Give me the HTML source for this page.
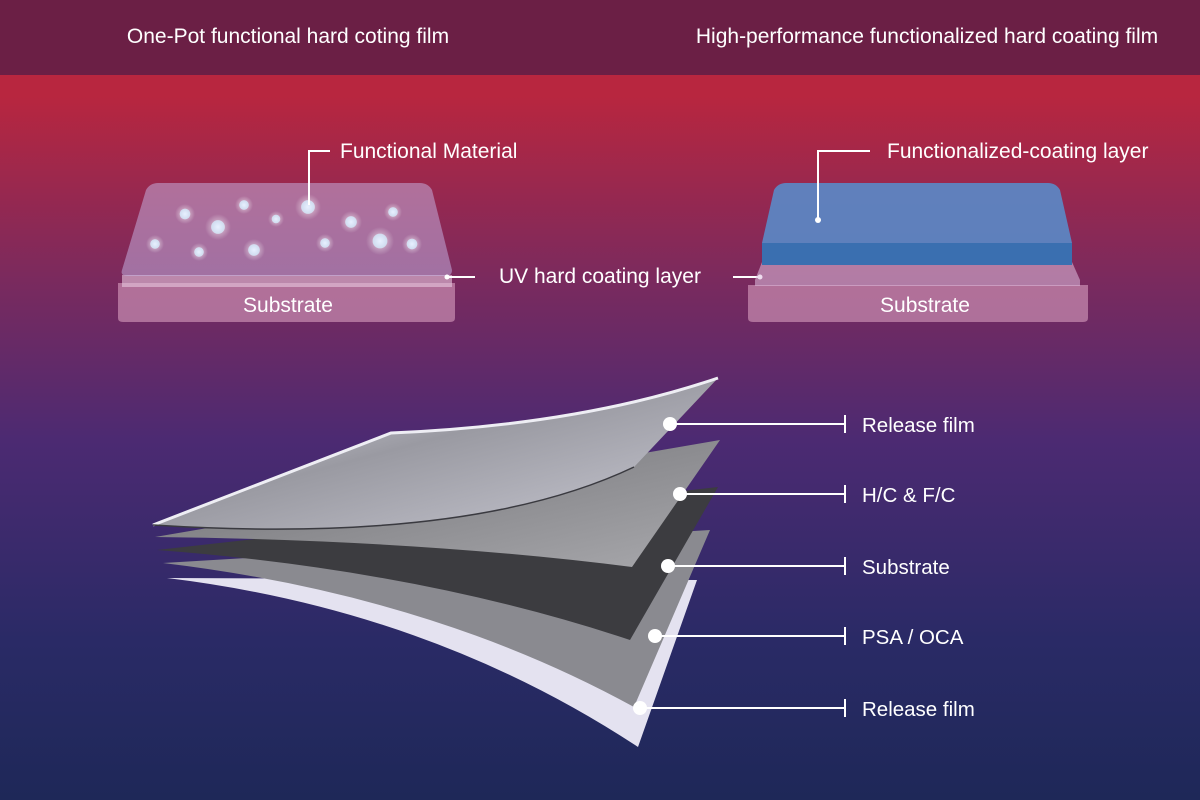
<!DOCTYPE html>
<html><head><meta charset="utf-8"><style>
html,body{margin:0;padding:0;width:1200px;height:800px;overflow:hidden}
svg text{font-family:"Liberation Sans",sans-serif;fill:#fff}
</style></head><body>
<svg width="1200" height="800" viewBox="0 0 1200 800" xmlns="http://www.w3.org/2000/svg">
<defs>
<linearGradient id="bg" x1="0" y1="0" x2="0" y2="1">
<stop offset="0" stop-color="#b8263f"/>
<stop offset="0.12" stop-color="#b8263f"/>
<stop offset="0.35" stop-color="#7a2a5e"/>
<stop offset="0.55" stop-color="#4c2a72"/>
<stop offset="0.8" stop-color="#2a2a66"/>
<stop offset="1" stop-color="#1e2858"/>
</linearGradient>
<radialGradient id="dot"><stop offset="0" stop-color="#e8f0ff"/><stop offset="0.5" stop-color="#d0dcf0"/><stop offset="0.55" stop-color="#ffffff" stop-opacity="0.3"/><stop offset="1" stop-color="#ffffff" stop-opacity="0"/></radialGradient>
<linearGradient id="l1" x1="0" y1="0" x2="1" y2="1"><stop offset="0" stop-color="#e0e0ea"/><stop offset="0.45" stop-color="#9a9aa2"/><stop offset="1" stop-color="#c8c8d2"/></linearGradient>
<linearGradient id="l2" x1="0" y1="0" x2="1" y2="1"><stop offset="0" stop-color="#6e6e72"/><stop offset="1" stop-color="#a8a8ac"/></linearGradient>
</defs>
<rect width="1200" height="800" fill="url(#bg)"/>
<rect width="1200" height="75" fill="#6b1f45"/>
<text x="288" y="43" font-size="21" text-anchor="middle">One-Pot functional hard coting film</text>
<text x="927" y="43" font-size="21" text-anchor="middle">High-performance functionalized hard coating film</text>

<!-- left plate -->
<path d="M118,283 H455 V318 Q455,322 450,322 H123 Q118,322 118,318 Z" fill="#d9a0c0" fill-opacity="0.6"/>
<path d="M122,275 H452 V287 H122 Z" fill="#e8c8e0" fill-opacity="0.6"/>
<path d="M158,183 H420 Q428,183 432,190 L452,270 Q452,276 446,276 H128 Q120,276 122,270 L146,190 Q150,183 158,183 Z" fill="#c8b8e8" fill-opacity="0.5"/>
<g fill="url(#dot)">
<circle cx="155" cy="244" r="9"/><circle cx="185" cy="214" r="10"/><circle cx="199" cy="252" r="9"/><circle cx="218" cy="227" r="13"/>
<circle cx="244" cy="205" r="9"/><circle cx="254" cy="250" r="11"/><circle cx="276" cy="219" r="8"/><circle cx="308" cy="207" r="13"/>
<circle cx="325" cy="243" r="9"/><circle cx="351" cy="222" r="11"/><circle cx="380" cy="241" r="14"/><circle cx="393" cy="212" r="9"/><circle cx="412" cy="244" r="10"/>
</g>
<text x="288" y="312" font-size="21" text-anchor="middle">Substrate</text>
<polyline points="309,205 309,151 330,151" fill="none" stroke="#fff" stroke-width="2"/>
<text x="340" y="158" font-size="21">Functional Material</text>
<line x1="447" y1="277" x2="475" y2="277" stroke="#fff" stroke-width="2"/>
<circle cx="447" cy="277" r="2.5" fill="#fff"/>
<text x="499" y="283" font-size="21">UV hard coating layer</text>
<line x1="733" y1="277" x2="760" y2="277" stroke="#fff" stroke-width="2"/>
<circle cx="760" cy="277" r="2.5" fill="#fff"/>

<!-- right plate -->
<path d="M748,285 H1088 V318 Q1088,322 1083,322 H753 Q748,322 748,318 Z" fill="#d9a0c0" fill-opacity="0.6"/>
<path d="M762,262 H1072 L1080,280 V286 H755 V280 Z" fill="#e0c0e0" fill-opacity="0.55"/>
<path d="M762,243 H1072 V265 H762 Z" fill="#3a6fb0"/>
<path d="M786,183 H1048 Q1056,183 1060,190 L1072,243 H762 L774,190 Q778,183 786,183 Z" fill="#5a8ac8" fill-opacity="0.9"/>
<text x="925" y="312" font-size="21" text-anchor="middle">Substrate</text>
<polyline points="818,220 818,151 870,151" fill="none" stroke="#fff" stroke-width="2"/>
<circle cx="818" cy="220" r="3" fill="#fff"/>
<text x="887" y="158" font-size="21">Functionalized-coating layer</text>

<!-- layered films -->
<path d="M167,578 L697,580 L638,747 Q430,610 167,578 Z" fill="#e4e2f0"/>
<path d="M163,563 L710,530 L634,707 Q430,595 163,563 Z" fill="#8a8a90"/>
<path d="M157,550 L718,487 L630,640 Q420,570 157,550 Z" fill="#3c3c40"/>
<path d="M155,537 L720,440 L632,567 Q420,540 155,537 Z" fill="url(#l2)"/>
<path d="M153,525 L391,433 Q580,425 718,378 L634,467 Q470,545 153,525 Z" fill="url(#l1)"/>
<path d="M153,525 L391,433 Q580,425 718,378" fill="none" stroke="#eeeef4" stroke-width="3"/>
<path d="M634,467 Q470,545 153,525" fill="none" stroke="#3a3a40" stroke-width="1.5"/>

<g stroke="#fff" stroke-width="2" fill="#fff">
<line x1="670" y1="424" x2="845" y2="424"/><line x1="845" y1="415" x2="845" y2="433"/><circle cx="670" cy="424" r="7" stroke="none"/>
<line x1="680" y1="494" x2="845" y2="494"/><line x1="845" y1="485" x2="845" y2="503"/><circle cx="680" cy="494" r="7" stroke="none"/>
<line x1="668" y1="566" x2="845" y2="566"/><line x1="845" y1="557" x2="845" y2="575"/><circle cx="668" cy="566" r="7" stroke="none"/>
<line x1="655" y1="636" x2="845" y2="636"/><line x1="845" y1="627" x2="845" y2="645"/><circle cx="655" cy="636" r="7" stroke="none"/>
<line x1="640" y1="708" x2="845" y2="708"/><line x1="845" y1="699" x2="845" y2="717"/><circle cx="640" cy="708" r="7" stroke="none"/>
</g>
<text x="862" y="432" font-size="20.5">Release film</text>
<text x="862" y="502" font-size="20.5">H/C &amp; F/C</text>
<text x="862" y="574" font-size="20.5">Substrate</text>
<text x="862" y="644" font-size="20.5">PSA / OCA</text>
<text x="862" y="716" font-size="20.5">Release film</text>
</svg>
</body></html>
